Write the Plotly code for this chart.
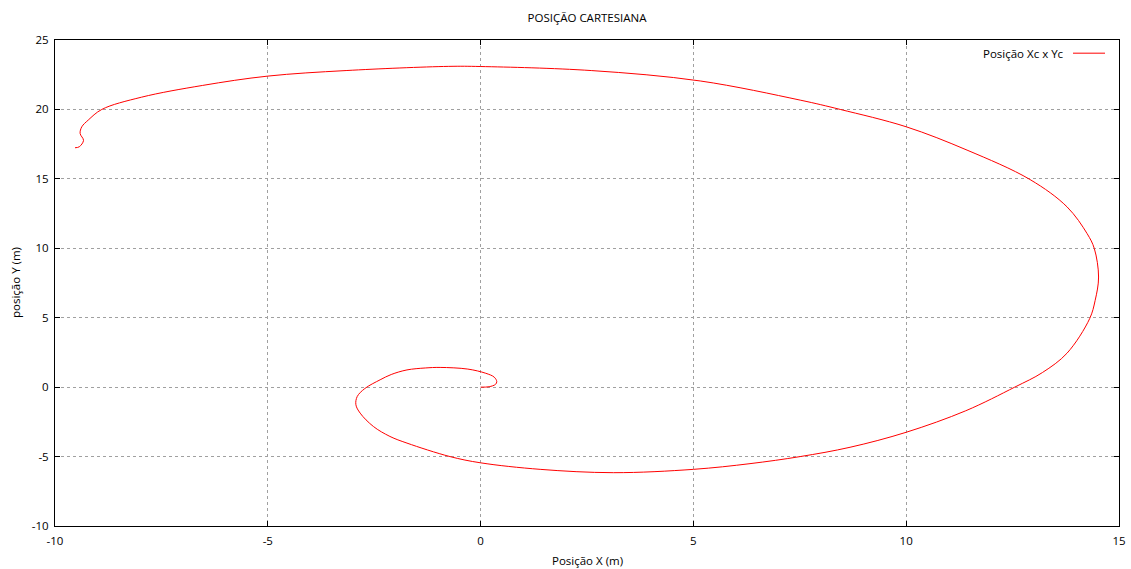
import plotly.graph_objects as go

# Trajectory (x, y in metres)
pos_x = [0.0, 0.2, 0.35, 0.38, 0.32, 0.12, -0.3, -0.95, -1.3, -1.73, -2.1, -2.36,
         -2.72, -2.90, -2.93, -2.83, -2.52, -2.13, -1.73, -0.72, 0.0, 1.4, 3.12, 5.0,
         6.33, 7.51, 8.68, 10.0, 11.4, 12.55, 13.2, 13.78, 14.31, 14.44, 14.52, 14.42,
         14.25, 13.78, 12.91, 11.43, 10.0, 8.45, 7.51, 5.16, 2.6, 0.0, -0.76, -3.16,
         -5.0, -6.53, -7.97, -8.9, -9.22, -9.37, -9.41, -9.33, -9.43, -9.53]
pos_y = [0.0, 0.03, 0.2, 0.4, 0.72, 1.0, 1.3, 1.42, 1.38, 1.24, 0.91, 0.53,
         -0.1, -0.68, -1.27, -1.87, -2.83, -3.55, -4.03, -5.0, -5.45, -5.92, -6.16, -5.92,
         -5.51, -5.0, -4.33, -3.25, -1.7, 0.0, 1.05, 2.45, 4.93, 6.25, 7.93, 9.98,
         11.06, 12.98, 14.95, 17.07, 18.75, 20.0, 20.67, 22.05, 22.8, 23.09, 23.1, 22.8,
         22.4, 21.73, 20.88, 20.0, 19.23, 18.75, 18.27, 17.77, 17.31, 17.24]

x_ticks = [-10, -5, 0, 5, 10, 15]
x_tick_labels = ["-10", "-5", "0", "5", "10", "15"]
y_ticks = [-10, -5, 0, 5, 10, 15, 20, 25]
y_tick_labels = ["-10", "-5", "0", "5", "10", "15", "20", "25"]

title_text = "POSIÇÃO CARTESIANA"
x_title = "Posição X (m)"
y_title = "posição Y (m)"
series_name = "Posição Xc x Yc"

FONT = "Open Sans"
FS = 11.5
fig = go.Figure()
fig.add_trace(go.Scatter(
    x=pos_x, y=pos_y, mode="lines", name=series_name,
    line=dict(color="#ff0000", width=1, shape="spline", smoothing=1.0),
    showlegend=False, hoverinfo="skip",
))

axis_common = dict(
    showline=True, linecolor="#000000", linewidth=1, mirror="allticks",
    ticks="inside", ticklen=5, tickcolor="#000000", tickwidth=1,
    showgrid=True, gridcolor="#a0a0a0", gridwidth=1, griddash="dot",
    zeroline=False, automargin=False,
    tickfont=dict(family=FONT, size=FS, color="#000000"),
)
fig.update_xaxes(range=[-10, 15], tickvals=x_ticks, ticktext=x_tick_labels,
                 ticklabelstandoff=4, **axis_common)
fig.update_yaxes(range=[-10, 25], tickvals=y_ticks, ticktext=y_tick_labels,
                 ticklabelstandoff=3, **axis_common)

PW = 1064.0
PH = 486.5
leg_y = 1 - (53 - 39.8) / PH
fig.update_layout(
    width=1131, height=569,
    margin=dict(l=55, r=12, t=40, b=43),
    paper_bgcolor="white", plot_bgcolor="white",
    title=dict(text=title_text, x=(55 + 1119) / 2 / 1131, xanchor="center",
               y=1 - 18 / 569, yanchor="middle",
               font=dict(family=FONT, size=FS, color="#000000")),
    font=dict(family=FONT, size=FS, color="#000000"),
    annotations=[
        dict(text=x_title, xref="paper", yref="paper", x=0.5, y=-35 / PH,
             xanchor="center", yanchor="middle", showarrow=False,
             font=dict(family=FONT, size=FS, color="#000000")),
        dict(text=y_title, xref="paper", yref="paper", x=-40 / PW, y=0.5,
             xanchor="center", yanchor="middle", textangle=-90, showarrow=False,
             font=dict(family=FONT, size=FS, color="#000000")),
        dict(text=series_name, xref="paper", yref="paper", x=(1066 - 55) / PW,
             y=leg_y, xanchor="right", yanchor="middle",
             showarrow=False, font=dict(family=FONT, size=FS, color="#000000")),
    ],
    shapes=[
        dict(type="line", xref="paper", yref="paper",
             x0=(1073 - 55) / PW, x1=(1105 - 55) / PW, y0=leg_y, y1=leg_y,
             line=dict(color="#ff0000", width=1)),
    ],
)

fig.write_html("out.html", config={"displayModeBar": False},
               post_script="document.body.style.margin='0';document.body.style.overflow='hidden';")
